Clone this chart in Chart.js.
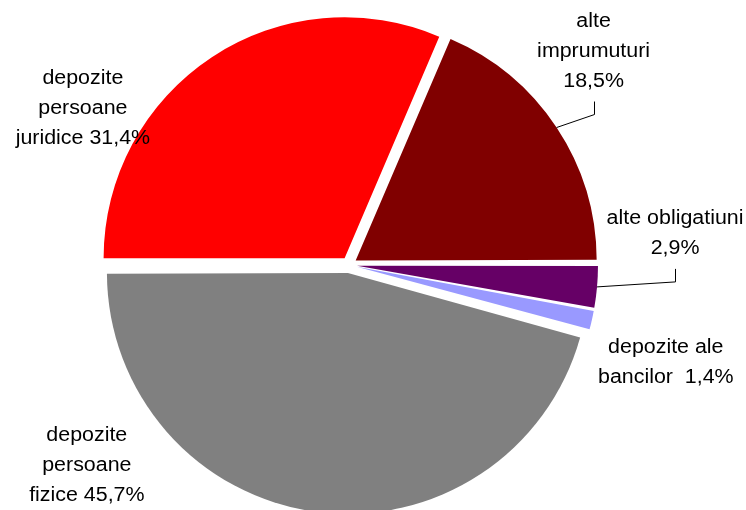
<!DOCTYPE html>
<html>
<head>
<meta charset="utf-8">
<script src="https://cdn.jsdelivr.net/npm/chart.js@4"></script>
<style>
  html, body { margin: 0; padding: 0; background: #ffffff; }
  #wrap { width: 746px; height: 510px; position: relative; }
</style>
</head>
<body>
<div id="wrap"><canvas id="c" width="746" height="510"></canvas></div>
<script>
// ---- data ----
const categories = ['depozite persoane juridice', 'alte imprumuturi', 'alte obligatiuni', 'depozite ale bancilor', 'depozite persoane fizice'];
const values = [31.4, 18.5, 2.9, 1.4, 45.7];
const labelLines = [
  ['depozite', 'persoane', 'juridice 31,4%'],
  ['alte', 'imprumuturi', '18,5%'],
  ['alte obligatiuni', '2,9%'],
  ['depozite ale', 'bancilor  1,4%'],
  ['depozite', 'persoane', 'fizice 45,7%']
];

// ---- style ----
const colors = ['#FF0000', '#800000', '#660066', '#9999FF', '#808080'];
const RADIUS = 241;
const OFFSET = 32;            // Chart.js v4 translates by offset/4
const labelPos = [            // text block position relative to slice edge anchor
  { dx: -129, dy: 27, leader: false },
  { dx: 37, dy: -101, leader: true },
  { dx: 78, dy: -63, leader: true },
  { dx: 74, dy: 33, leader: false },
  { dx: -229, dy: -71, leader: false }
];
const FONT_SIZE = 20;
const LINE_H = 30;
const X_SCALE = 1.07;

const fixRadius = {
  id: 'fixRadius',
  afterUpdate(chart) {
    const meta = chart.getDatasetMeta(0);
    const t = OFFSET / 4;
    meta.data.forEach(arc => {
      const circ = arc.endAngle - arc.startAngle;
      const fix = 1 - Math.sin(Math.min(Math.PI, circ));
      arc.outerRadius = RADIUS - t * fix;
    });
  }
};

const sliceLabels = {
  id: 'sliceLabels',
  afterDatasetsDraw(chart) {
    const ctx = chart.ctx;
    const meta = chart.getDatasetMeta(0);
    const t = OFFSET / 4;
    ctx.save();
    ctx.font = FONT_SIZE + 'px "Liberation Sans", Arial, sans-serif';
    ctx.fillStyle = '#000000';
    ctx.textAlign = 'center';
    ctx.textBaseline = 'alphabetic';
    meta.data.forEach((arc, i) => {
      const mid = (arc.startAngle + arc.endAngle) / 2;
      const ax = arc.x + Math.cos(mid) * (RADIUS + t);
      const ay = arc.y + Math.sin(mid) * (RADIUS + t);
      const p = labelPos[i];
      const cx = ax + p.dx;
      const y0 = ay + p.dy;
      const lines = labelLines[i];
      lines.forEach((ln, k) => {
        ctx.save();
        ctx.translate(cx, y0 + k * LINE_H);
        ctx.scale(X_SCALE, 1);
        ctx.fillText(ln, 0, 0);
        ctx.restore();
      });
      if (p.leader) {
        const lastB = y0 + (lines.length - 1) * LINE_H;
        const ex = Math.round(cx) + 0.5;
        ctx.beginPath();
        ctx.strokeStyle = '#000000';
        ctx.lineWidth = 1;
        ctx.moveTo(ax, ay);
        ctx.lineTo(ex, lastB + 28);
        ctx.lineTo(ex, lastB + 15);
        ctx.stroke();
      }
    });
    ctx.restore();
  }
};

new Chart(document.getElementById('c'), {
  type: 'pie',
  data: {
    labels: categories,
    datasets: [{
      data: values,
      backgroundColor: colors,
      borderWidth: 0,
      offset: OFFSET
    }]
  },
  options: {
    responsive: false,
    animation: false,
    events: [],
    rotation: -90,
    radius: RADIUS,
    layout: { padding: { left: 0, right: 48, top: 20, bottom: 0 } },
    plugins: {
      legend: { display: false },
      tooltip: { enabled: false }
    }
  },
  plugins: [fixRadius, sliceLabels]
});
</script>
</body>
</html>
